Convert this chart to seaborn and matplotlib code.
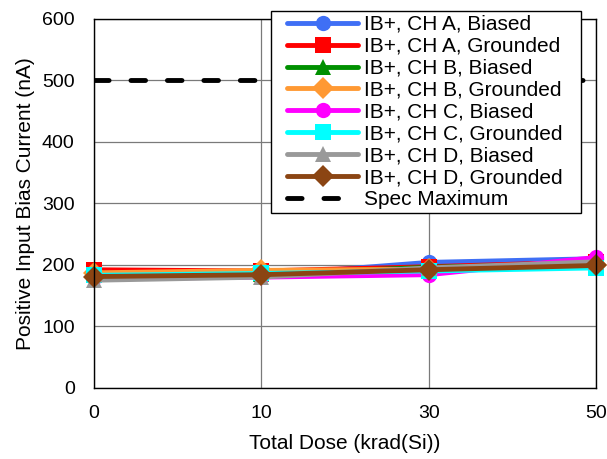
import matplotlib
matplotlib.use('Agg')
import matplotlib.pyplot as plt
import pandas as pd
import seaborn as sns
from matplotlib.lines import Line2D
from matplotlib.legend_handler import HandlerLine2D

# Data
doses = ['0', '10', '30', '50']
labels = ['IB+, CH A, Biased', 'IB+, CH A, Grounded',
          'IB+, CH B, Biased', 'IB+, CH B, Grounded',
          'IB+, CH C, Biased', 'IB+, CH C, Grounded',
          'IB+, CH D, Biased', 'IB+, CH D, Grounded']
a_biased = [180, 183, 204, 210]
a_grounded = [192, 190, 197, 205]
b_biased = [185, 185, 196, 202]
b_grounded = [187, 191, 193, 200]
c_biased = [178, 180, 184, 212]
c_grounded = [183, 186, 190, 195]
d_biased = [175, 180, 195, 205]
d_grounded = [181, 184, 192, 199]
spec_max = [500, 500, 500, 500]

series = [a_biased, a_grounded, b_biased, b_grounded,
          c_biased, c_grounded, d_biased, d_grounded]
colors = ['#3f6ff5', '#ff0000', '#009000', '#ff9933',
          '#ff00ff', '#00ffff', '#999999', '#8b4513']
markers = ['o', 's', '^', 'D', 'o', 's', '^', 'D']

rows = []
for lab, vals in zip(labels, series):
    for i, v in enumerate(vals):
        rows.append({'pos': i, 'value': v, 'series': lab})
df = pd.DataFrame(rows)

sns.set_style('white')
plt.rcParams['font.family'] = ['Liberation Sans', 'DejaVu Sans']
plt.rcParams['text.color'] = 'black'
plt.rcParams['axes.labelcolor'] = 'black'
plt.rcParams['xtick.color'] = 'black'
plt.rcParams['ytick.color'] = 'black'

fig = plt.figure(figsize=(6.07, 4.59), dpi=100)
ax = fig.add_axes([0.155, 0.155, 0.827, 0.804])

# Spec maximum line
sns.lineplot(x=range(len(doses)), y=spec_max, ax=ax, color='black',
             linewidth=3.5, label='Spec Maximum')
spec = ax.lines[0]
spec.set_linestyle((0, (3, 4.5)))
spec.set_dash_capstyle('round')

for lab, col, mk in zip(labels, colors, markers):
    sub = df[df['series'] == lab]
    sns.lineplot(data=sub, x='pos', y='value', ax=ax, color=col, marker=mk,
                 markersize=11 if mk != '^' else 12, markeredgewidth=0,
                 linewidth=3.5, label=lab, clip_on=False)

ax.set_xlim(0, 3)
ax.set_ylim(0, 600)
ax.set_xticks(range(len(doses)))
ax.set_xticklabels(doses)
ax.set_yticks(range(0, 601, 100))
ax.tick_params(labelsize=14, length=0)
ax.tick_params(axis='x', pad=12)
ax.tick_params(axis='y', pad=14)
ax.grid(True, color='#7a7a7a', linewidth=0.9)
for s in ax.spines.values():
    s.set_color('black')
    s.set_linewidth(1)
ax.set_xlabel('Total Dose (krad(Si))', fontsize=15, labelpad=9)
ax.set_ylabel('Positive Input Bias Current (nA)', fontsize=15, labelpad=5)

handles, labs = ax.get_legend_handles_labels()
order = list(range(1, len(handles))) + [0]
leg = ax.legend([handles[i] for i in order], [labs[i] for i in order],
                loc='upper left', bbox_to_anchor=(0.3526, 0.5, 0.6175, 0.5217),
                mode='expand', fontsize=15, frameon=True, fancybox=False,
                framealpha=1, edgecolor='black', handlelength=3.98,
                labelspacing=0.14, borderpad=0.2, handletextpad=0.29,
                borderaxespad=0,
                handler_map={Line2D: HandlerLine2D(xpad=0.58)})
leg.get_frame().set_linewidth(1)
leg.set_zorder(5)

fig.savefig('out.png', dpi=100)
